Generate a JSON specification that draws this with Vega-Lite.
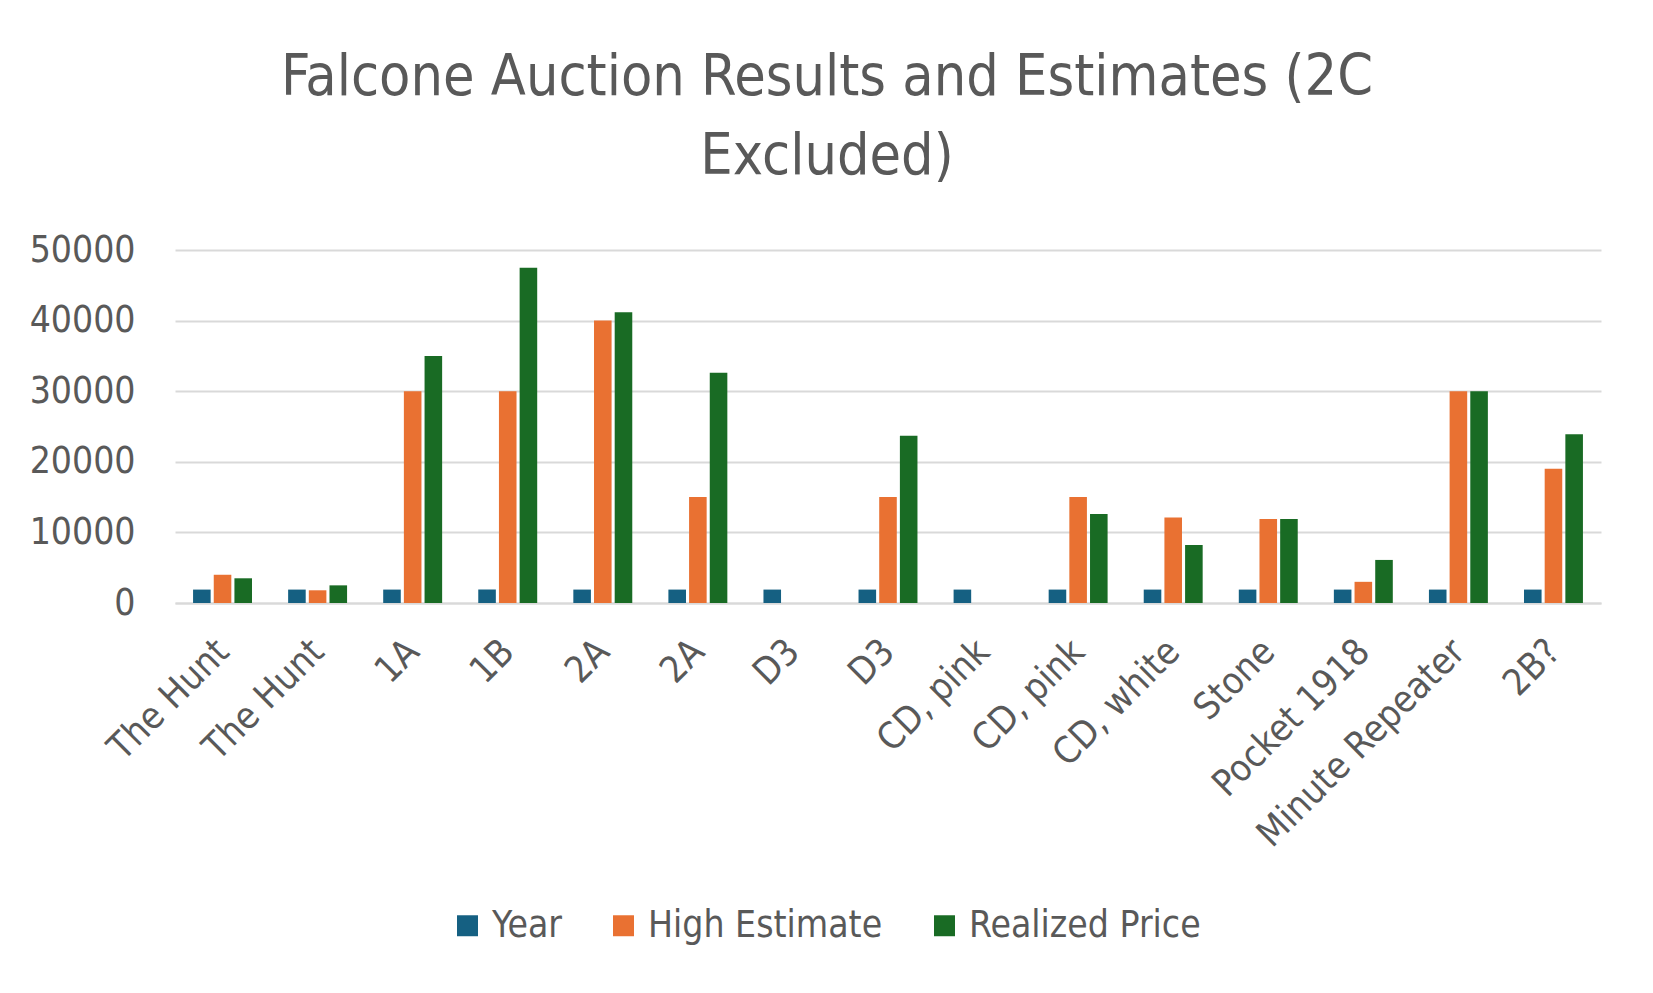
{
  "$schema": "https://vega.github.io/schema/vega-lite/v6.json",
  "description": "Falcone auction results and estimates, grouped bars",
  "width": 1426,
  "height": 353,
  "autosize": "none",
  "padding": {"left": 175, "top": 250, "right": 52, "bottom": 390},
  "background": "white",
  "title": {
    "text": ["Falcone Auction Results and Estimates (2C", "Excluded)"],
    "font": "'DejaVu Sans Condensed', 'Liberation Sans', sans-serif",
    "fontSize": 57,
    "fontWeight": "normal",
    "color": "#595959",
    "lineHeight": 79,
    "anchor": "middle",
    "dx": -61,
    "offset": 45
  },
  "data": {
    "values": [
      {"pos": 1, "name": "The Hunt", "Year": 1900, "High Estimate": 4000, "Realized Price": 3500},
      {"pos": 2, "name": "The Hunt", "Year": 1900, "High Estimate": 1800, "Realized Price": 2500},
      {"pos": 3, "name": "1A", "Year": 1900, "High Estimate": 30000, "Realized Price": 35000},
      {"pos": 4, "name": "1B", "Year": 1900, "High Estimate": 30000, "Realized Price": 47500},
      {"pos": 5, "name": "2A", "Year": 1900, "High Estimate": 40000, "Realized Price": 41200},
      {"pos": 6, "name": "2A", "Year": 1900, "High Estimate": 15000, "Realized Price": 32600},
      {"pos": 7, "name": "D3", "Year": 1900, "High Estimate": null, "Realized Price": null},
      {"pos": 8, "name": "D3", "Year": 1900, "High Estimate": 15000, "Realized Price": 23700},
      {"pos": 9, "name": "CD, pink", "Year": 1900, "High Estimate": null, "Realized Price": null},
      {"pos": 10, "name": "CD, pink", "Year": 1900, "High Estimate": 15000, "Realized Price": 12600},
      {"pos": 11, "name": "CD, white", "Year": 1900, "High Estimate": 12100, "Realized Price": 8200},
      {"pos": 12, "name": "Stone", "Year": 1900, "High Estimate": 11900, "Realized Price": 11900},
      {"pos": 13, "name": "Pocket 1918", "Year": 1900, "High Estimate": 3000, "Realized Price": 6100},
      {"pos": 14, "name": "Minute Repeater", "Year": 1900, "High Estimate": 30000, "Realized Price": 30000},
      {"pos": 15, "name": "2B?", "Year": 1900, "High Estimate": 19000, "Realized Price": 23900}
    ]
  },
  "transform": [
    {"fold": ["Year", "High Estimate", "Realized Price"], "as": ["Series", "Value"]},
    {"filter": "isValid(datum.Value)"}
  ],
  "mark": {"type": "bar"},
  "encoding": {
    "x": {
      "field": "pos",
      "type": "ordinal",
      "scale": {"paddingInner": 0.38, "paddingOuter": 0.19},
      "axis": {
        "title": null,
        "labelExpr": "['The Hunt','The Hunt','1A','1B','2A','2A','D3','D3','CD, pink','CD, pink','CD, white','Stone','Pocket 1918','Minute Repeater','2B?'][datum.value - 1]",
        "labelAngle": -45,
        "labelPadding": 30,
        "labelOffset": -12,
        "labelLimit": 600,
        "ticks": false,
        "domainColor": "#d9d9d9",
        "domainWidth": 2
      }
    },
    "xOffset": {
      "field": "Series",
      "type": "nominal",
      "sort": ["Year", "High Estimate", "Realized Price"],
      "scale": {"paddingInner": 0.15}
    },
    "y": {
      "field": "Value",
      "type": "quantitative",
      "scale": {"domain": [0, 50000]},
      "axis": {
        "title": null,
        "values": [0, 10000, 20000, 30000, 40000, 50000],
        "format": "d",
        "domain": false,
        "ticks": false,
        "labelPadding": 40,
        "gridColor": "#d9d9d9",
        "gridWidth": 2
      }
    },
    "color": {
      "field": "Series",
      "type": "nominal",
      "sort": ["Year", "High Estimate", "Realized Price"],
      "scale": {
        "domain": ["Year", "High Estimate", "Realized Price"],
        "range": ["#156082", "#E97132", "#196B24"]
      },
      "legend": {
        "title": null,
        "orient": "none",
        "direction": "horizontal",
        "legendX": 274,
        "legendY": 657,
        "symbolType": "square",
        "symbolSize": 440,
        "symbolStrokeWidth": 0,
        "symbolOpacity": 1,
        "labelOffset": 6,
        "columnPadding": 43
      }
    }
  },
  "config": {
    "view": {"stroke": null},
    "axis": {
      "labelFont": "'DejaVu Sans Condensed', 'Liberation Sans', sans-serif",
      "labelFontSize": 37,
      "labelColor": "#595959"
    },
    "legend": {
      "labelFont": "'DejaVu Sans Condensed', 'Liberation Sans', sans-serif",
      "labelFontSize": 37,
      "labelColor": "#595959",
      "labelLimit": 400
    }
  }
}
